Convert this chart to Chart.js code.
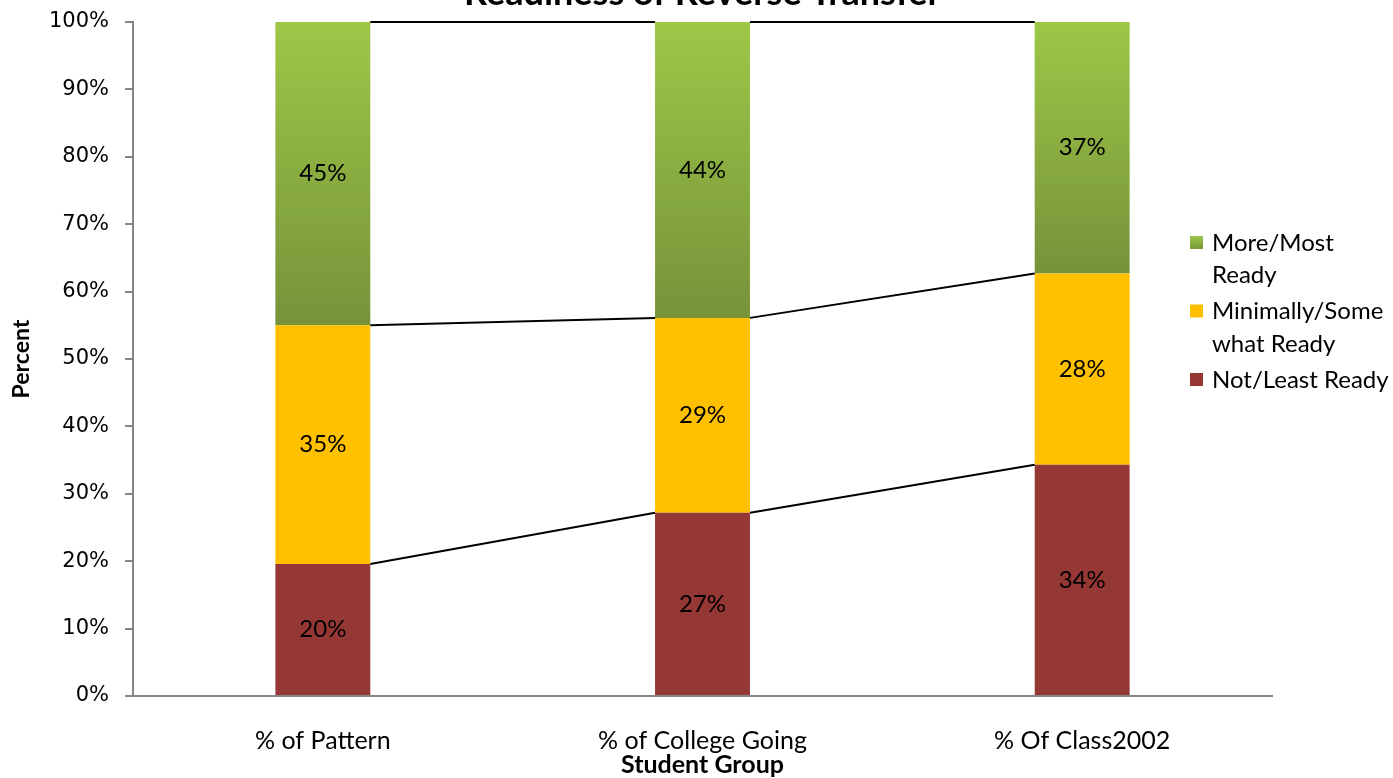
<!DOCTYPE html>
<html>
<head>
<meta charset="utf-8">
<title>Readiness of Reverse Transfer</title>
<script src="https://cdn.jsdelivr.net/npm/chart.js@4"></script>
<style>
    html, body { margin: 0; padding: 0; background: #ffffff; }
    canvas { display: block; }
</style>
</head>
<body>
<canvas id="readinessChart" width="1393" height="778"></canvas>
<script>
const chartTitle = 'Readiness of Reverse Transfer';
const categories = ['% of Pattern', '% of College Going', '% Of Class2002'];
const notReady = [19.6, 27.2, 34.3];
const minimallyReady = [35.4, 28.9, 28.4];
const mostReady = [45.0, 43.9, 37.3];
const seriesNames = ['Not/Least Ready', 'Minimally/Some what Ready', 'More/Most Ready'];
const legendLines = [['Not/Least Ready'], ['Minimally/Some', 'what Ready'], ['More/Most', 'Ready']];
const yTicks = [0, 10, 20, 30, 40, 50, 60, 70, 80, 90, 100];

const labelFont = 'Lato, "Open Sans", sans-serif';

function greenFill(context) {
    const chart = context.chart;
    if (!chart.chartArea || context.type !== 'data') {
        return '#8ab43f';
    }
    const yScale = chart.scales.y;
    const i = context.dataIndex;
    const base = notReady[i] + minimallyReady[i];
    const top = yScale.getPixelForValue(base + mostReady[i]);
    const bottom = yScale.getPixelForValue(base);
    const gradient = chart.ctx.createLinearGradient(0, top, 0, bottom);
    gradient.addColorStop(0, '#9dc747');
    gradient.addColorStop(1, '#76933a');
    return gradient;
}

const seriesLinesPlugin = {
    id: 'seriesLines',
    afterDatasetsDraw(chart) {
        const ctx = chart.ctx;
        ctx.save();
        ctx.strokeStyle = '#000000';
        ctx.lineWidth = 2;
        chart.data.datasets.forEach(function (ds, i) {
            const bars = chart.getDatasetMeta(i).data;
            for (let j = 0; j < bars.length - 1; j++) {
                const a = bars[j];
                const b = bars[j + 1];
                ctx.beginPath();
                ctx.moveTo(a.x + a.width / 2, a.y);
                ctx.lineTo(b.x - b.width / 2, b.y);
                ctx.stroke();
            }
        });
        ctx.restore();
    }
};

const valueLabelsPlugin = {
    id: 'valueLabels',
    afterDatasetsDraw(chart) {
        const ctx = chart.ctx;
        ctx.save();
        ctx.fillStyle = '#000000';
        ctx.font = '24px ' + labelFont;
        ctx.textAlign = 'center';
        ctx.textBaseline = 'middle';
        chart.data.datasets.forEach(function (ds, i) {
            chart.getDatasetMeta(i).data.forEach(function (bar, j) {
                ctx.fillText(Math.round(ds.data[j]) + '%', bar.x, (bar.y + bar.base) / 2);
            });
        });
        ctx.restore();
    }
};

const titleAndLegendPlugin = {
    id: 'titleAndLegend',
    afterDraw(chart) {
        const ctx = chart.ctx;
        const area = chart.chartArea;
        ctx.save();

        // title is cut off by the top edge, like the original
        ctx.fillStyle = '#000000';
        ctx.font = 'bold 36px ' + labelFont;
        ctx.textAlign = 'center';
        ctx.textBaseline = 'alphabetic';
        ctx.fillText(chartTitle, (area.left + area.right) / 2, 5);

        // legend, top item is the last dataset
        const boxX = area.right - 82;
        const textX = boxX + 22;
        let y = 243;
        ctx.font = '24px ' + labelFont;
        ctx.textAlign = 'left';
        ctx.textBaseline = 'middle';
        for (let i = chart.data.datasets.length - 1; i >= 0; i--) {
            let bg = chart.data.datasets[i].backgroundColor;
            if (typeof bg === 'function') {
                bg = ctx.createLinearGradient(0, y - 7, 0, y + 7);
                bg.addColorStop(0, '#9dc747');
                bg.addColorStop(1, '#76933a');
            }
            ctx.fillStyle = bg;
            ctx.fillRect(boxX, y - 7, 13, 13);
            ctx.fillStyle = '#000000';
            legendLines[i].forEach(function (line, k) {
                ctx.fillText(line, textX, y + k * 32.5);
            });
            y += legendLines[i].length * 32.5 + 3.5;
        }
        ctx.restore();
    }
};

new Chart(document.getElementById('readinessChart').getContext('2d'), {
    type: 'bar',
    data: {
        labels: categories,
        datasets: [
            { label: seriesNames[0], data: notReady, backgroundColor: '#953735' },
            { label: seriesNames[1], data: minimallyReady, backgroundColor: '#ffc000' },
            { label: seriesNames[2], data: mostReady, backgroundColor: greenFill }
        ]
    },
    options: {
        responsive: false,
        animation: false,
        layout: { padding: { top: 22, right: 121, left: 0, bottom: 0 } },
        datasets: { bar: { categoryPercentage: 1, barPercentage: 0.25 } },
        plugins: {
            legend: { display: false },
            title: { display: false },
            tooltip: { enabled: false }
        },
        scales: {
            x: {
                stacked: true,
                grid: { display: false },
                border: { color: '#868686', width: 2 },
                ticks: { color: '#000000', font: { family: labelFont, size: 25 }, padding: 22 },
                title: {
                    display: true,
                    text: 'Student Group',
                    color: '#000000',
                    font: { family: labelFont, size: 25, weight: 'bold' },
                    padding: { top: 0, bottom: -2 }
                },
                afterFit: function (scale) { scale.height = 82; }
            },
            y: {
                stacked: true,
                min: 0,
                max: 100,
                afterBuildTicks: function (scale) {
                    scale.ticks = yTicks.map(function (v) { return { value: v }; });
                },
                ticks: {
                    color: '#000000',
                    font: { family: 'DejaVu Sans', size: 21 },
                    padding: 16,
                    callback: function (v) { return v + '%'; }
                },
                grid: { drawOnChartArea: false, drawTicks: true, tickLength: 8, color: '#868686', lineWidth: 2 },
                border: { color: '#868686', width: 2 },
                title: {
                    display: true,
                    text: 'Percent',
                    color: '#000000',
                    font: { family: labelFont, size: 23, weight: 'bold' },
                    padding: { top: 8, bottom: 0 }
                },
                afterFit: function (scale) {
                    scale.width = 133;
                    scale.paddingTop = 0;
                    scale.paddingBottom = 0;
                }
            }
        }
    },
    plugins: [seriesLinesPlugin, valueLabelsPlugin, titleAndLegendPlugin]
});
</script>
</body>
</html>
